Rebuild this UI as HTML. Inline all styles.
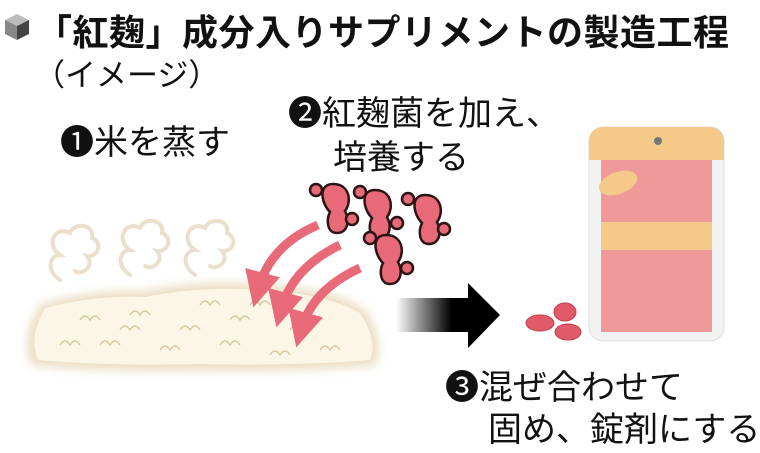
<!DOCTYPE html>
<html><head><meta charset="utf-8"><style>
body{margin:0;width:760px;height:453px;background:#fff;overflow:hidden;position:relative;font-family:"Liberation Sans","Noto Sans CJK JP",sans-serif;color:#111}
.t{position:absolute;white-space:nowrap;transform-origin:0 0}
</style></head><body>
<svg width="760" height="453" style="position:absolute;left:0;top:0">
<defs>
<filter id="bl"><feGaussianBlur stdDeviation="5"/></filter>
<linearGradient id="g" x1="0" x2="1"><stop offset="0" stop-color="#fff"/><stop offset="0.75" stop-color="#000"/></linearGradient>
<marker id="ah" markerWidth="4" markerHeight="4" refX="2" refY="2" orient="auto"><path d="M0,0 L4,2 L0,4Z" fill="#e86a78"/></marker>
</defs>
<polygon points="17,14 29,20 17,26 5,20" fill="#bbb"/>
<polygon points="5,20 17,26 17,40 5,34" fill="#888"/>
<polygon points="29,20 17,26 17,40 29,34" fill="#444"/>
<g fill="none" stroke="#eadfcb" stroke-width="4" stroke-linecap="round">
<path d="M60,280 c-15,-10 -10,-25 0,-25 c-15,-10 -5,-30 10,-22 c5,-12 25,-8 22,5 c12,5 5,20 -5,18 c8,10 -5,20 -12,15"/>
<path d="M130,275 c-15,-10 -10,-25 0,-25 c-15,-10 -5,-30 10,-22 c5,-12 25,-8 22,5 c12,5 5,20 -5,18 c8,10 -5,20 -12,15"/>
<path d="M195,275 c-15,-10 -10,-25 0,-25 c-15,-10 -5,-30 10,-22 c5,-12 25,-8 22,5 c12,5 5,20 -5,18 c8,10 -5,20 -12,15"/>
</g>
<path d="M40,305 Q90,290 140,292 Q200,280 260,285 Q330,288 365,310 Q385,340 375,365 Q300,372 200,370 Q100,372 32,365 Q20,340 40,305Z" fill="#e9dcc0" filter="url(#bl)"/>
<path d="M45,308 Q95,295 145,297 Q200,286 258,290 Q325,293 360,313 Q378,340 370,360 Q300,366 200,364 Q100,366 38,360 Q28,338 45,308Z" fill="#fbf6e6"/>
<g fill="none" stroke="#d8c9a0" stroke-width="1.5">
<path d="M80,320 q5,-8 10,0 q5,-8 10,0"/><path d="M130,315 q5,-8 10,0 q5,-8 10,0"/><path d="M180,330 q5,-8 10,0 q5,-8 10,0"/><path d="M230,320 q5,-8 10,0 q5,-8 10,0"/><path d="M100,345 q5,-8 10,0 q5,-8 10,0"/><path d="M160,350 q5,-8 10,0 q5,-8 10,0"/><path d="M220,345 q5,-8 10,0 q5,-8 10,0"/><path d="M290,330 q5,-8 10,0 q5,-8 10,0"/><path d="M320,350 q5,-8 10,0 q5,-8 10,0"/><path d="M60,345 q5,-8 10,0 q5,-8 10,0"/><path d="M270,355 q5,-8 10,0 q5,-8 10,0"/><path d="M200,305 q5,-8 10,0 q5,-8 10,0"/><path d="M120,330 q5,-8 10,0 q5,-8 10,0"/><path d="M250,305 q5,-8 10,0 q5,-8 10,0"/>
</g>
<g fill="none" stroke="#e86a78" stroke-width="9" marker-end="url(#ah)">
<path d="M318,225 Q270,245 258,290"/>
<path d="M340,245 Q292,268 281,310"/>
<path d="M360,268 Q312,290 301,330"/>
</g>
<g fill="#e86a78" stroke="#2a1414" stroke-width="2.5">
<path d="M333,184 c17,0 19,18 12,27 c5,9 3,22 -8,22 c-10,0 -11,-13 -7,-21 c-9,-9 -12,-28 3,-28z"/>
<circle cx="316" cy="190" r="6"/><circle cx="352" cy="219" r="6"/>
<path d="M375,190 c17,0 19,18 12,27 c5,9 3,22 -8,22 c-10,0 -11,-13 -7,-21 c-9,-9 -12,-28 3,-28z"/>
<circle cx="360" cy="192" r="6"/><circle cx="397" cy="223" r="6"/>
<path d="M425,195 c17,0 19,18 12,27 c5,9 3,22 -8,22 c-10,0 -11,-13 -7,-21 c-9,-9 -12,-28 3,-28z"/>
<circle cx="408" cy="199" r="6"/><circle cx="444" cy="229" r="6"/>
<path d="M386,235 c17,0 19,18 12,27 c5,9 3,22 -8,22 c-10,0 -11,-13 -7,-21 c-9,-9 -12,-28 3,-28z"/>
<circle cx="370" cy="238" r="6"/><circle cx="407" cy="268" r="6"/>
</g>
<rect x="396" y="298" width="74" height="34" fill="url(#g)"/>
<polygon points="468,283 500,315 468,348" fill="#000"/>
<g fill="#e05a6a" stroke="#c04050" stroke-width="1">
<ellipse cx="540" cy="323" rx="14" ry="8"/><ellipse cx="565" cy="312" rx="11" ry="9"/><ellipse cx="568" cy="332" rx="13" ry="8"/>
</g>
<rect x="589" y="127" width="135" height="214" rx="14" fill="#f2f2f2" stroke="#ddd"/>
<path d="M589,160 V141 a14,14 0 0 1 14,-14 H710 a14,14 0 0 1 14,14 V160Z" fill="#f5c987"/>
<rect x="601" y="160" width="111" height="172" fill="#ef9a9a"/>
<rect x="601" y="222" width="111" height="28" fill="#f5c987"/>
<ellipse cx="618" cy="183" rx="20" ry="11" fill="#f5c987" transform="rotate(-20 618 183)"/>
<circle cx="658" cy="141" r="4" fill="#777"/>
</svg>
<div class="t" style="left:36px;top:4px;font-size:36px;font-weight:bold;letter-spacing:0.5px">「紅麹」成分入りサプリメントの製造工程</div>
<div class="t" style="left:34px;top:50px;font-size:31px">（イメージ）</div>
<div class="t" style="left:60px;top:115px;font-size:34px">❶米を蒸す</div>
<div class="t" style="left:288px;top:86px;font-size:34px">❷紅麹菌を加え、</div>
<div class="t" style="left:333px;top:130px;font-size:34px">培養する</div>
<div class="t" style="left:445px;top:360px;font-size:34px">❸混ぜ合わせて</div>
<div class="t" style="left:488px;top:402px;font-size:34px">固め、錠剤にする</div>
</body></html>
